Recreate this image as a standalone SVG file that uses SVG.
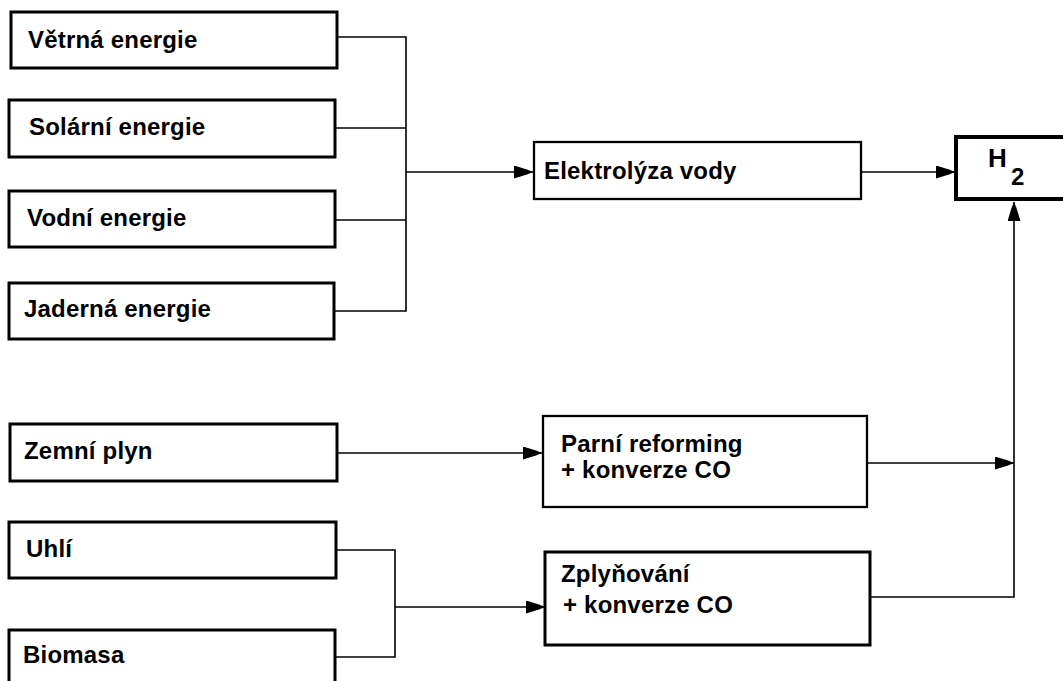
<svg xmlns="http://www.w3.org/2000/svg" width="1063" height="681" viewBox="0 0 1063 681">
<defs>
<style>
.box{fill:#fff;stroke:#000;stroke-width:3}
.mid{fill:#fff;stroke:#000;stroke-width:2.3}
.h2{fill:#fff;stroke:#000;stroke-width:4}
.t{font-family:"Liberation Sans",Arial,sans-serif;font-size:24px;font-weight:bold;letter-spacing:0.2px;fill:#000}
.c{fill:none;stroke:#000;stroke-width:1.6}
</style>
<marker id="ah" viewBox="0 0 19 13" refX="19" refY="6.5" markerWidth="19" markerHeight="13" markerUnits="userSpaceOnUse" orient="auto">
<path d="M0,0 L13,4 L19,6.5 L13,9 L0,13 z" fill="#000"/>
</marker>
</defs>
<rect width="1063" height="681" fill="#fff"/>
<g id="connectors">
<polyline class="c" points="337,37 406,37 406,311 334,311"/>
<line class="c" x1="335" y1="128" x2="406" y2="128"/>
<line class="c" x1="335" y1="220" x2="406" y2="220"/>
<line class="c" x1="406" y1="172" x2="533" y2="172" marker-end="url(#ah)"/>
<line class="c" x1="861" y1="172" x2="955" y2="172" marker-end="url(#ah)"/>
<line class="c" x1="337" y1="453" x2="542" y2="453" marker-end="url(#ah)"/>
<polyline class="c" points="336,550 395,550 395,657 335,657"/>
<line class="c" x1="395" y1="607" x2="545" y2="607" marker-end="url(#ah)"/>
<line class="c" x1="867" y1="463" x2="1014" y2="463" marker-end="url(#ah)"/>
<polyline class="c" points="870,597 1014,597 1014,202" marker-end="url(#ah)"/>
</g>
<g id="vetrna"><rect class="box" x="11" y="12" width="326" height="56"/><text class="t" x="28" y="48">Větrná energie</text></g>
<g id="solarni"><rect class="box" x="9" y="100" width="326" height="57"/><text class="t" x="29" y="135">Solární energie</text></g>
<g id="vodni"><rect class="box" x="9" y="191" width="326" height="56"/><text class="t" x="27" y="226">Vodní energie</text></g>
<g id="jaderna"><rect class="box" x="9" y="283" width="325" height="56"/><text class="t" x="24" y="317">Jaderná energie</text></g>
<g id="elektrolyza"><rect class="mid" x="534" y="142" width="327" height="57"/><text class="t" x="544" y="179">Elektrolýza vody</text></g>
<g id="h2"><rect class="h2" x="956" y="137" width="120" height="62"/><text class="t" x="988" y="167" style="font-size:26px">H</text><text class="t" x="1011" y="185" style="font-size:24px">2</text></g>
<g id="zemni"><rect class="box" x="10" y="424" width="327" height="57"/><text class="t" x="24" y="459">Zemní plyn</text></g>
<g id="uhli"><rect class="box" x="9" y="522" width="327" height="56"/><text class="t" x="26" y="557">Uhlí</text></g>
<g id="biomasa"><rect class="box" x="9" y="630" width="326" height="70"/><text class="t" x="23" y="663">Biomasa</text></g>
<g id="parni"><rect class="mid" x="543" y="416" width="324" height="91"/><text class="t" x="561" y="452">Parní reforming</text><text class="t" x="561" y="478">+ konverze CO</text></g>
<g id="zplynovani"><rect class="box" x="545" y="552" width="325" height="93"/><text class="t" x="561" y="582">Zplyňování</text><text class="t" x="563" y="613">+ konverze CO</text></g>
</svg>
